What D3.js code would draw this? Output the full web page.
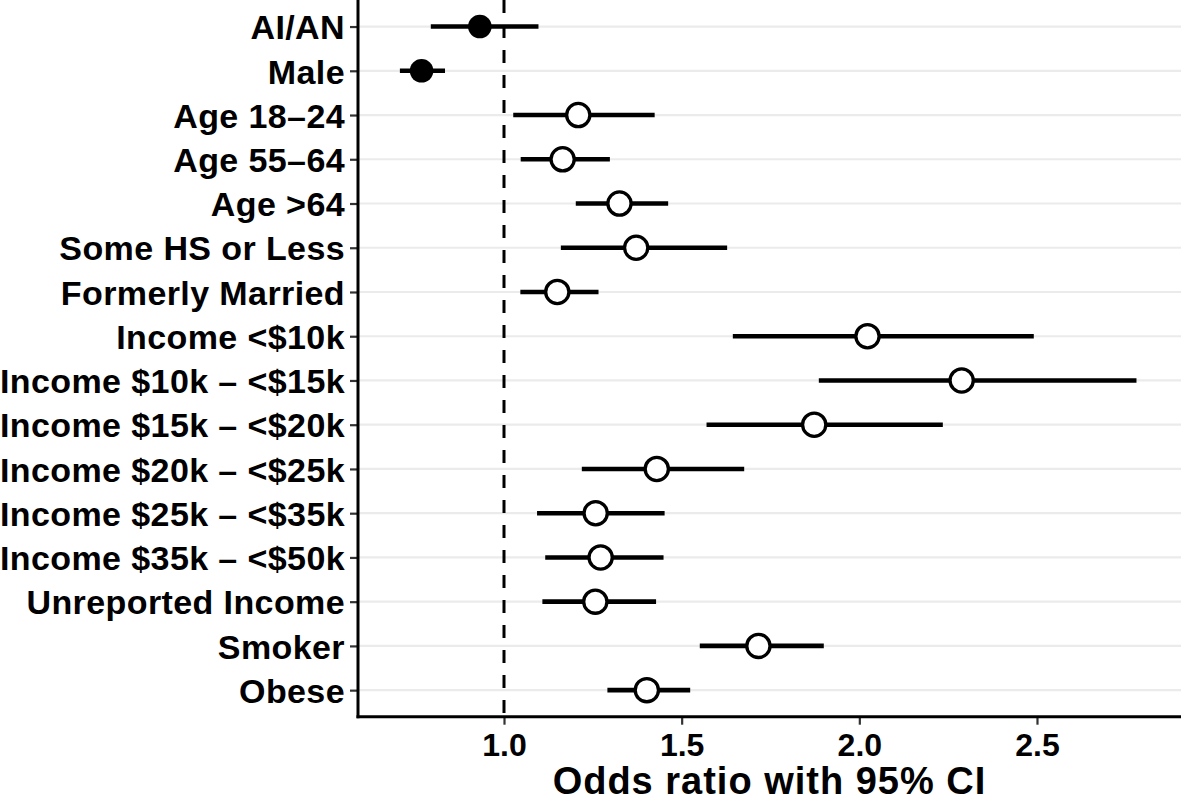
<!DOCTYPE html>
<html>
<head>
<meta charset="utf-8">
<script src="https://cdn.jsdelivr.net/npm/d3@7"></script>
<style>
  html, body { margin: 0; padding: 0; background: #fff; }
  svg { display: block; }
  text { font-family: "Liberation Sans", Arial, Helvetica, sans-serif; font-weight: bold; fill: #000; }
</style>
</head>
<body>
<div id="chart"></div>
<script>
// ---- Data ----
const categories = [
  "AI/AN", "Male", "Age 18\u201324", "Age 55\u201364", "Age >64", "Some HS or Less",
  "Formerly Married", "Income <$10k", "Income $10k \u2013 <$15k", "Income $15k \u2013 <$20k",
  "Income $20k \u2013 <$25k", "Income $25k \u2013 <$35k", "Income $35k \u2013 <$50k",
  "Unreported Income", "Smoker", "Obese"
];
const oddsRatio = [0.932, 0.768, 1.209, 1.165, 1.325, 1.372, 1.150, 2.023, 2.288, 1.873, 1.430, 1.258, 1.272, 1.257, 1.716, 1.402];
const ciLower   = [0.794, 0.707, 1.026, 1.047, 1.202, 1.160, 1.046, 1.644, 1.886, 1.570, 1.219, 1.093, 1.116, 1.108, 1.551, 1.291];
const ciUpper   = [1.097, 0.834, 1.424, 1.298, 1.462, 1.628, 1.266, 2.491, 2.780, 2.235, 1.676, 1.452, 1.449, 1.428, 1.900, 1.524];
const xTicks = [1.0, 1.5, 2.0, 2.5];
const xTickLabels = ["1.0", "1.5", "2.0", "2.5"];
const referenceValue = 1.0;
const xTitle = "Odds ratio with 95% CI";

// ---- Layout ----
const W = 1181, H = 802;
const panel = { left: 358, right: 1181, top: 0, bottom: 716.7 };

const svg = d3.select("#chart").append("svg").attr("width", W).attr("height", H);

const x = d3.scaleLinear().domain([0.5891, 2.9053]).range([panel.left, panel.right]);
const y = d3.scalePoint().domain(categories).range([panel.top, panel.bottom]).padding(0.6);

const rows = categories.map((c, i) => ({ cat: c, est: oddsRatio[i], lo: ciLower[i], hi: ciUpper[i] }));

// gridlines
svg.append("g").selectAll("line").data(categories).join("line")
  .attr("x1", panel.left).attr("x2", panel.right)
  .attr("y1", d => y(d)).attr("y2", d => y(d))
  .attr("stroke", "#ebebeb").attr("stroke-width", 2.2);

// reference line
svg.append("line")
  .attr("x1", x(referenceValue)).attr("x2", x(referenceValue))
  .attr("y1", panel.top).attr("y2", panel.bottom)
  .attr("stroke", "#000").attr("stroke-width", 3)
  .attr("stroke-dasharray", "13 12");

// error bars
svg.append("g").selectAll("line").data(rows).join("line")
  .attr("x1", d => x(d.lo)).attr("x2", d => x(d.hi))
  .attr("y1", d => y(d.cat)).attr("y2", d => y(d.cat))
  .attr("stroke", "#000").attr("stroke-width", 4.6);

// points
svg.append("g").selectAll("circle").data(rows).join("circle")
  .attr("cx", d => x(d.est)).attr("cy", d => y(d.cat))
  .attr("r", d => d.est < referenceValue ? 11.8 : 11.6)
  .attr("fill", d => d.est < referenceValue ? "#000" : "#fff")
  .attr("stroke", "#000")
  .attr("stroke-width", d => d.est < referenceValue ? 0 : 3.3);

// y axis
const yAxis = d3.axisLeft(y).tickSize(8).tickPadding(5);
const gy = svg.append("g").attr("transform", `translate(${panel.left},0)`).call(yAxis);
gy.select(".domain").remove();
gy.selectAll(".tick line").attr("stroke", "#333").attr("stroke-width", 2.2);
gy.selectAll(".tick text").attr("font-size", 34).attr("font-family", "Liberation Sans, Arial, sans-serif")
  .attr("font-weight", "bold").attr("fill", "#000").attr("dy", "0.36em")
  .style("letter-spacing", "0.4px");

// x axis
const xAxis = d3.axisBottom(x).tickValues(xTicks).tickFormat((d, i) => xTickLabels[i]).tickSize(8).tickPadding(6);
const gx = svg.append("g").attr("transform", `translate(0,${panel.bottom})`).call(xAxis);
gx.select(".domain").remove();
gx.selectAll(".tick line").attr("stroke", "#333").attr("stroke-width", 2.2);
gx.selectAll(".tick text").attr("font-size", 32).attr("font-family", "Liberation Sans, Arial, sans-serif")
  .attr("font-weight", "bold").attr("fill", "#000").attr("dy", "0.8em");

// axis lines
svg.append("line").attr("x1", panel.left).attr("x2", panel.left)
  .attr("y1", panel.top).attr("y2", panel.bottom + 1.5)
  .attr("stroke", "#000").attr("stroke-width", 3);
svg.append("line").attr("x1", panel.left - 1.5).attr("x2", panel.right)
  .attr("y1", panel.bottom).attr("y2", panel.bottom)
  .attr("stroke", "#000").attr("stroke-width", 3);

// x title
svg.append("text")
  .attr("x", (panel.left + panel.right) / 2)
  .attr("y", 794)
  .attr("text-anchor", "middle")
  .attr("font-size", 38)
  .style("letter-spacing", "1px")
  .text(xTitle);
</script>
</body>
</html>
